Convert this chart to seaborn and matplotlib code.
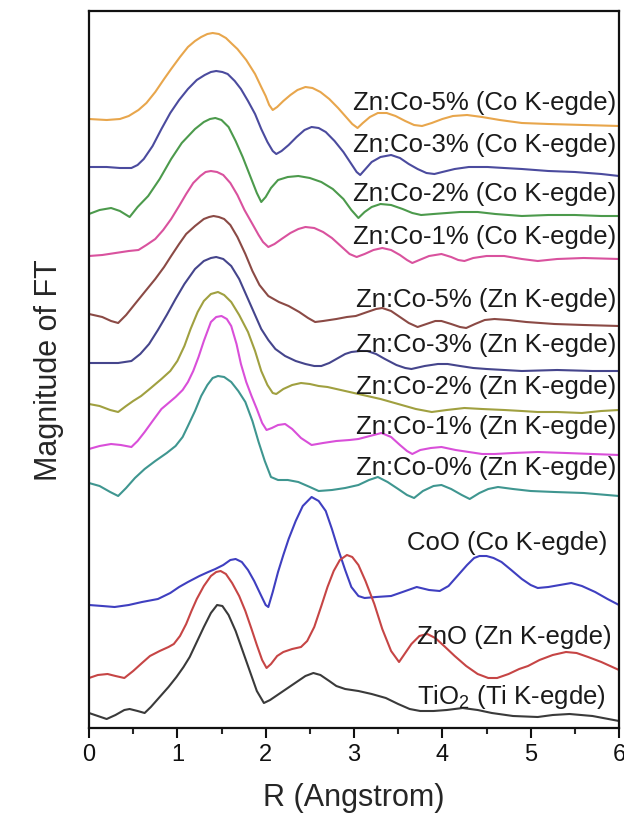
import numpy as np
import pandas as pd
import matplotlib
matplotlib.use("Agg")
import matplotlib.pyplot as plt
from matplotlib.ticker import MultipleLocator
import seaborn as sns

# ---- data: R (Angstrom) and depth of each curve below a fixed reference level ----
names = ["Zn:Co-5% (Co K-egde)", "Zn:Co-3% (Co K-egde)", "Zn:Co-2% (Co K-egde)", "Zn:Co-1% (Co K-egde)",
         "Zn:Co-5% (Zn K-egde)", "Zn:Co-3% (Zn K-egde)", "Zn:Co-2% (Zn K-egde)", "Zn:Co-1% (Zn K-egde)",
         "Zn:Co-0% (Zn K-egde)", "CoO (Co K-egde)", "ZnO (Zn K-egde)", "TiO$_2$ (Ti K-egde)"]
colors = ["#E8A64C", "#4B4B9E", "#4C9A4C", "#D9529E", "#8B4A45", "#45458C",
          "#A0A040", "#D94FD9", "#3F9690", "#3F3FC0", "#C64545", "#3A3A3A"]

r_co5 = [0.0, 0.2, 0.35, 0.45, 0.56, 0.65, 0.75, 0.85, 0.93, 1.03, 1.12, 1.2, 1.27, 1.34, 1.4, 1.47, 1.55, 1.62, 1.68, 1.78, 1.88, 1.95, 2.0, 2.04, 2.08, 2.13, 2.2, 2.28, 2.36, 2.45, 2.53, 2.62, 2.72, 2.82, 2.92, 2.98, 3.04, 3.1, 3.18, 3.27, 3.37, 3.47, 3.58, 3.68, 3.77, 3.88, 4.0, 4.12, 4.28, 4.45, 4.65, 4.9, 5.2, 5.6, 6.0]
d_co5 = [120, 121, 120, 117, 111, 104, 93, 80, 70, 58, 48, 42, 38, 35, 34, 35, 39, 45, 50, 61, 75, 88, 97, 106, 111, 108, 102, 96, 91, 88, 89, 93, 100, 109, 119, 125, 129, 124, 118, 114, 114, 117, 122, 126, 127, 124, 120, 117, 116, 118, 121, 124, 125, 126, 127]

r_co3 = [0.0, 0.2, 0.35, 0.48, 0.55, 0.62, 0.72, 0.82, 0.92, 1.02, 1.12, 1.22, 1.31, 1.38, 1.44, 1.51, 1.57, 1.65, 1.72, 1.8, 1.88, 1.95, 2.02, 2.08, 2.12, 2.18, 2.26, 2.35, 2.44, 2.52, 2.6, 2.68, 2.78, 2.88, 2.97, 3.03, 3.07, 3.13, 3.2, 3.3, 3.42, 3.52, 3.62, 3.72, 3.82, 3.91, 4.0, 4.14, 4.3, 4.51, 4.7, 4.9, 5.2, 5.5, 5.8, 6.0]
d_co3 = [168, 168, 169, 169, 166, 160, 147, 130, 114, 101, 90, 81, 76, 73, 72, 73, 75, 82, 90, 102, 115, 130, 143, 152, 155, 152, 146, 138, 131, 128, 129, 133, 142, 153, 165, 173, 176, 170, 163, 158, 156, 159, 165, 170, 174, 175, 173, 170, 168, 168, 169, 170, 172, 173, 175, 177]

r_co2 = [0.0, 0.12, 0.25, 0.35, 0.46, 0.55, 0.67, 0.8, 0.93, 1.05, 1.2, 1.3, 1.37, 1.43, 1.5, 1.58, 1.66, 1.74, 1.82, 1.9, 1.95, 2.0, 2.06, 2.14, 2.25, 2.37, 2.5, 2.63, 2.76, 2.88, 2.97, 3.05, 3.12, 3.2, 3.3, 3.42, 3.55, 3.66, 3.76, 3.9, 4.05, 4.2, 4.4, 4.6, 4.9, 5.2, 5.5, 5.8, 6.0]
d_co2 = [215, 211, 209, 212, 218, 208, 197, 180, 160, 144, 130, 123, 120, 119, 121, 128, 142, 158, 176, 194, 203, 198, 189, 181, 178, 177, 179, 183, 190, 200, 211, 219, 213, 208, 205, 206, 210, 214, 216, 215, 214, 213, 213, 215, 217, 216, 216, 217, 217]

r_co1 = [0.0, 0.15, 0.3, 0.45, 0.56, 0.65, 0.75, 0.84, 0.93, 1.02, 1.1, 1.18, 1.26, 1.32, 1.38, 1.45, 1.52, 1.6, 1.68, 1.76, 1.85, 1.92, 1.97, 2.03, 2.1, 2.18, 2.28, 2.37, 2.45, 2.55, 2.65, 2.75, 2.85, 2.95, 3.03, 3.12, 3.22, 3.32, 3.42, 3.52, 3.6, 3.66, 3.74, 3.85, 3.99, 4.1, 4.18, 4.25, 4.35, 4.5, 4.7, 4.9, 5.08, 5.3, 5.6, 6.0]
d_co1 = [257, 256, 254, 252, 251, 246, 240, 231, 220, 207, 195, 184, 177, 173, 172, 173, 176, 184, 196, 211, 225, 236, 243, 248, 245, 240, 234, 230, 228, 229, 233, 239, 247, 255, 258, 255, 251, 249, 251, 256, 261, 264, 261, 257, 255, 258, 261, 262, 259, 257, 257, 260, 262, 260, 259, 260]

r_zn5 = [0.0, 0.15, 0.25, 0.33, 0.42, 0.52, 0.63, 0.75, 0.85, 0.93, 1.02, 1.1, 1.2, 1.3, 1.36, 1.41, 1.47, 1.53, 1.6, 1.68, 1.77, 1.85, 1.93, 2.03, 2.15, 2.26, 2.38, 2.48, 2.56, 2.65, 2.8, 2.92, 3.02, 3.15, 3.25, 3.32, 3.42, 3.52, 3.62, 3.72, 3.82, 3.92, 3.99, 4.1, 4.2, 4.27, 4.37, 4.48, 4.59, 4.75, 4.95, 5.27, 5.6, 6.0]
d_zn5 = [315, 318, 322, 324, 316, 305, 293, 280, 268, 257, 245, 235, 227, 220, 218, 217, 218, 220, 226, 238, 255, 272, 286, 297, 303, 307, 313, 319, 323, 322, 320, 318, 317, 313, 310, 309, 312, 318, 324, 328, 325, 322, 322, 325, 328, 329, 325, 321, 320, 321, 323, 325, 326, 327]

r_zn3 = [0.0, 0.2, 0.33, 0.48, 0.58, 0.68, 0.78, 0.88, 0.98, 1.08, 1.2, 1.3, 1.38, 1.44, 1.52, 1.61, 1.7, 1.8, 1.88, 1.95, 2.03, 2.11, 2.22, 2.34, 2.45, 2.55, 2.63, 2.72, 2.82, 2.9, 2.97, 3.07, 3.15, 3.25, 3.35, 3.48, 3.58, 3.65, 3.8, 3.95, 4.06, 4.2, 4.35, 4.5, 4.7, 4.9, 5.3, 5.7, 6.0]
d_zn3 = [364, 364, 364, 362, 355, 345, 331, 316, 300, 285, 270, 262, 259, 258, 260, 267, 280, 300, 316, 330, 341, 350, 357, 362, 365, 367, 367, 364, 359, 355, 353, 352, 352, 355, 360, 366, 369, 370, 367, 365, 365, 367, 369, 370, 371, 372, 371, 372, 372]

r_zn2 = [0.0, 0.12, 0.24, 0.33, 0.42, 0.5, 0.59, 0.7, 0.82, 0.92, 1.0, 1.08, 1.15, 1.23, 1.3, 1.38, 1.46, 1.53, 1.61, 1.7, 1.8, 1.88, 1.95, 2.02, 2.08, 2.12, 2.2, 2.3, 2.4, 2.5, 2.6, 2.7, 2.85, 3.05, 3.3, 3.5, 3.7, 3.88, 4.05, 4.25, 4.45, 4.7, 4.9, 5.08, 5.3, 5.58, 5.8, 6.0]
d_zn2 = [405, 407, 411, 413, 407, 402, 397, 389, 380, 372, 362, 347, 330, 313, 302, 295, 293, 296, 303, 316, 333, 352, 372, 386, 394, 395, 390, 386, 384, 385, 387, 388, 391, 395, 400, 405, 410, 413, 411, 409, 410, 411, 412, 413, 413, 414, 412, 411]

r_zn1 = [0.0, 0.12, 0.25, 0.36, 0.48, 0.55, 0.63, 0.72, 0.82, 0.9, 0.98, 1.06, 1.12, 1.18, 1.24, 1.3, 1.38, 1.44, 1.5, 1.56, 1.61, 1.67, 1.72, 1.78, 1.84, 1.9, 1.96, 2.01, 2.07, 2.14, 2.22, 2.3, 2.4, 2.52, 2.65, 2.8, 2.95, 3.05, 3.18, 3.31, 3.42, 3.52, 3.6, 3.66, 3.75, 3.87, 3.99, 4.15, 4.3, 4.45, 4.59, 4.8, 5.08, 5.4, 5.7, 6.0]
d_zn1 = [450, 447, 445, 446, 448, 442, 433, 422, 410, 404, 398, 391, 383, 372, 358, 342, 323, 318, 317, 320, 327, 345, 365, 383, 397, 410, 424, 431, 429, 426, 425, 430, 439, 446, 444, 442, 441, 440, 437, 434, 438, 446, 452, 455, 451, 449, 448, 451, 453, 455, 455, 454, 453, 454, 455, 456]

r_zn0 = [0.0, 0.12, 0.24, 0.33, 0.42, 0.52, 0.63, 0.75, 0.88, 0.98, 1.06, 1.12, 1.2, 1.27, 1.34, 1.4, 1.46, 1.53, 1.61, 1.69, 1.77, 1.85, 1.92, 1.99, 2.06, 2.14, 2.25, 2.37, 2.5, 2.6, 2.75, 2.9, 3.05, 3.17, 3.27, 3.38, 3.5, 3.6, 3.68, 3.78, 3.9, 3.99, 4.1, 4.22, 4.31, 4.42, 4.52, 4.63, 4.8, 5.0, 5.27, 5.6, 6.0]
d_zn0 = [484, 487, 493, 497, 489, 479, 470, 462, 454, 447, 438, 427, 412, 397, 386, 379, 377, 378, 383, 392, 403, 422, 443, 462, 478, 481, 481, 483, 488, 492, 491, 489, 486, 481, 478, 483, 490, 496, 499, 492, 487, 486, 490, 496, 500, 494, 490, 488, 490, 492, 493, 494, 497]

r_coo = [0.0, 0.15, 0.29, 0.45, 0.6, 0.78, 0.92, 1.02, 1.12, 1.25, 1.35, 1.43, 1.52, 1.6, 1.66, 1.73, 1.8, 1.87, 1.94, 2.0, 2.03, 2.08, 2.14, 2.2, 2.26, 2.34, 2.42, 2.52, 2.6, 2.68, 2.75, 2.82, 2.9, 2.97, 3.05, 3.12, 3.25, 3.42, 3.55, 3.71, 3.85, 3.97, 4.07, 4.17, 4.28, 4.36, 4.42, 4.5, 4.58, 4.67, 4.78, 4.9, 5.0, 5.08, 5.2, 5.33, 5.46, 5.58, 5.73, 5.87, 6.0]
d_coo = [606, 607, 608, 606, 603, 600, 594, 588, 583, 577, 573, 570, 566, 561, 560, 563, 571, 582, 595, 606, 608, 593, 573, 556, 540, 522, 507, 498, 502, 512, 530, 550, 571, 588, 597, 599, 598, 597, 593, 588, 591, 592, 587, 577, 566, 559, 557, 557, 559, 563, 571, 580, 586, 589, 588, 586, 584, 587, 593, 600, 606]

r_zno = [0.0, 0.1, 0.21, 0.3, 0.4, 0.5, 0.6, 0.69, 0.8, 0.9, 0.96, 1.03, 1.1, 1.16, 1.22, 1.3, 1.38, 1.44, 1.49, 1.55, 1.62, 1.7, 1.77, 1.84, 1.9, 1.96, 2.01, 2.06, 2.13, 2.2, 2.3, 2.4, 2.47, 2.55, 2.63, 2.7, 2.77, 2.84, 2.92, 2.98, 3.05, 3.13, 3.23, 3.32, 3.42, 3.51, 3.58, 3.65, 3.74, 3.83, 3.92, 4.02, 4.14, 4.27, 4.4, 4.52, 4.62, 4.75, 4.87, 4.97, 5.1, 5.25, 5.4, 5.52, 5.65, 5.8, 6.0]
d_zno = [679, 676, 675, 677, 679, 672, 664, 657, 652, 648, 645, 637, 625, 612, 600, 587, 577, 573, 572, 575, 584, 597, 612, 630, 646, 661, 669, 665, 657, 653, 650, 648, 642, 628, 607, 588, 572, 561, 556, 558, 566, 582, 605, 630, 652, 663, 654, 645, 637, 635, 639, 647, 657, 667, 675, 679, 679, 675, 670, 667, 661, 656, 653, 654, 658, 663, 671]

r_tio2 = [0.0, 0.1, 0.2, 0.3, 0.4, 0.46, 0.55, 0.63, 0.7, 0.8, 0.9, 0.99, 1.07, 1.14, 1.22, 1.3, 1.38, 1.45, 1.51, 1.58, 1.66, 1.74, 1.82, 1.9, 1.98, 2.05, 2.15, 2.25, 2.35, 2.45, 2.54, 2.62, 2.72, 2.8, 2.9, 3.05, 3.2, 3.36, 3.5, 3.63, 3.75, 3.9, 4.05, 4.23, 4.4, 4.56, 4.8, 5.08, 5.25, 5.44, 5.7, 6.0]
d_tio2 = [714, 717, 720, 716, 711, 710, 712, 714, 708, 698, 688, 678, 668, 658, 643, 628, 614, 606, 607, 616, 632, 652, 672, 692, 704, 701, 695, 689, 683, 677, 674, 676, 682, 687, 690, 692, 695, 699, 705, 710, 712, 712, 711, 709, 711, 714, 717, 718, 716, 715, 717, 722]

label_depth = [103, 145, 194, 237, 300, 345, 387, 427, 468, 543, 637, 697]

REF = 729.0  # depth of zero magnitude in the reading scale
all_r = [r_co5, r_co3, r_co2, r_co1, r_zn5, r_zn3, r_zn2, r_zn1, r_zn0, r_coo, r_zno, r_tio2]
all_d = [d_co5, d_co3, d_co2, d_co1, d_zn5, d_zn3, d_zn2, d_zn1, d_zn0, d_coo, d_zno, d_tio2]

frames = []
for n, r, d in zip(names, all_r, all_d):
    frames.append(pd.DataFrame({"R": r, "FT": (REF - np.array(d, float)) / 100.0, "sample": n}))
df = pd.concat(frames, ignore_index=True)

sns.set_theme(style="ticks")
plt.rcParams["font.family"] = ["Liberation Sans", "DejaVu Sans"]
plt.rcParams["mathtext.fontset"] = "custom"
plt.rcParams["mathtext.rm"] = "Liberation Sans"
plt.rcParams["mathtext.it"] = "Liberation Sans:italic"

fig = plt.figure(figsize=(6.24, 8.29), dpi=100)
ax = fig.add_axes([89 / 624, 1 - 729 / 829, (619 - 89) / 624, (729 - 12) / 829])

sns.lineplot(data=df, x="R", y="FT", hue="sample", hue_order=names,
             palette=dict(zip(names, colors)), estimator=None, sort=False,
             linewidth=1.5, legend=False, ax=ax)

label_right = [5.97] * 9 + [5.87, 5.92, 5.85]
for n, yd, xr in zip(names, label_depth, label_right):
    ax.text(xr, (REF - yd) / 100.0, n, ha="right", va="center", fontsize=18.5, color="#1a1a1a")

ax.set_xlim(0, 6)
ax.set_ylim(0, (REF - 12) / 100.0)
ax.xaxis.set_major_locator(MultipleLocator(1))
ax.xaxis.set_minor_locator(MultipleLocator(0.5))
ax.set_yticks([])
ax.tick_params(axis="x", which="major", direction="out", length=7, width=1.5, labelsize=17, pad=4, colors="#111111")
ax.tick_params(axis="x", which="minor", direction="out", length=4, width=1.5)
for s in ax.spines.values():
    s.set_linewidth(1.6)
    s.set_color("#111111")
ax.set_xlabel("R (Angstrom)", fontsize=22, labelpad=12)
ax.set_ylabel("Magnitude of FT", fontsize=22, labelpad=18)

fig.savefig("out.png", dpi=100)
